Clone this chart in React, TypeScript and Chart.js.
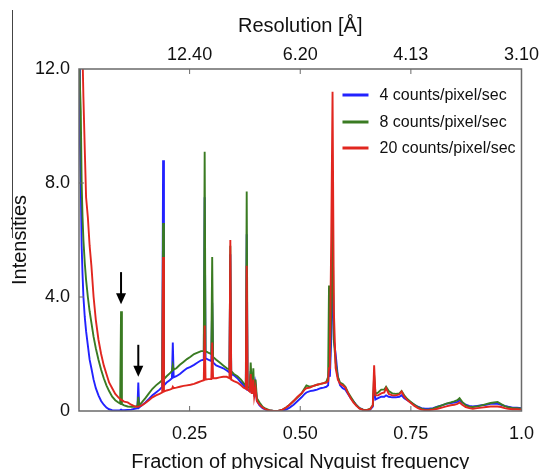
import React, { useEffect, useRef } from 'react';
import { Chart, registerables } from 'chart.js';

Chart.register(...registerables);

// Fraction of physical Nyquist frequency (shared x grid for all series)
const frequency = [
  0.000, 0.002, 0.004, 0.006, 0.008, 0.010, 0.013, 0.016, 0.020, 0.024,
  0.028, 0.033, 0.038, 0.044, 0.050, 0.056, 0.062, 0.068, 0.075, 0.082,
  0.089, 0.093, 0.095, 0.097, 0.102, 0.110, 0.118, 0.126, 0.132, 0.134,
  0.136, 0.142, 0.150, 0.158, 0.166, 0.174, 0.182, 0.188, 0.190, 0.192,
  0.198, 0.205, 0.210, 0.212, 0.214, 0.220, 0.228, 0.236, 0.244, 0.252,
  0.260, 0.268, 0.276, 0.282, 0.284, 0.286, 0.292, 0.299, 0.301, 0.303,
  0.310, 0.318, 0.326, 0.334, 0.340, 0.342, 0.344, 0.350, 0.358, 0.366,
  0.372, 0.377, 0.379, 0.381, 0.386, 0.388, 0.391, 0.394, 0.396, 0.399,
  0.402, 0.408, 0.415, 0.422, 0.430, 0.440, 0.450, 0.460, 0.468, 0.476,
  0.485, 0.494, 0.503, 0.510, 0.514, 0.522, 0.530, 0.538, 0.546, 0.553,
  0.559, 0.563, 0.565, 0.567, 0.570, 0.573, 0.576, 0.580, 0.585, 0.590,
  0.596, 0.602, 0.608, 0.614, 0.620, 0.627, 0.634, 0.642, 0.650, 0.658,
  0.664, 0.667, 0.670, 0.676, 0.683, 0.690, 0.694, 0.700, 0.708, 0.716,
  0.724, 0.729, 0.735, 0.742, 0.750, 0.758, 0.766, 0.774, 0.782, 0.790,
  0.800, 0.810, 0.820, 0.830, 0.840, 0.848, 0.855, 0.860, 0.866, 0.874,
  0.882, 0.890, 0.900, 0.910, 0.920, 0.930, 0.938, 0.946, 0.954, 0.962,
  0.970, 0.980, 0.990, 1.000,
];

// 4 counts/pixel/sec
const intensity4 = [
  12.5, 9.5, 8.0, 5.8, 4.8, 4.0, 3.3, 2.8, 2.3, 1.8,
  1.5, 1.1, 0.8, 0.55, 0.35, 0.22, 0.12, 0.06, 0.03, 0.02,
  0.02, 0.03, 0.05, 0.03, 0.03, 0.04, 0.05, 0.08, 0.1, 1.0,
  0.12, 0.2, 0.3, 0.42, 0.55, 0.65, 0.75, 0.85, 8.8, 0.9,
  1.0, 1.08, 1.15, 2.4, 1.18, 1.22, 1.3, 1.4, 1.5, 1.55,
  1.62, 1.7, 1.78, 1.8, 7.5, 1.85, 1.8, 1.75, 3.8, 1.7,
  1.6, 1.55, 1.5, 1.42, 1.35, 5.5, 1.3, 1.25, 1.15, 1.0,
  0.9, 0.8, 6.2, 0.75, 0.7, 1.4, 0.6, 1.2, 0.5, 0.9,
  0.35, 0.2, 0.1, 0.05, 0.02, 0.0, 0.0, 0.02, 0.05, 0.12,
  0.22, 0.35, 0.48, 0.6, 0.65, 0.7, 0.72, 0.75, 0.8, 0.82,
  0.85, 0.9, 1.5, 1.2, 2.5, 5.3, 2.5, 2.0, 1.2, 0.9,
  0.8, 0.75, 0.6, 0.45, 0.35, 0.2, 0.1, 0.05, 0.03, 0.05,
  0.15, 0.9, 0.4, 0.45, 0.5, 0.5, 0.55, 0.5, 0.48, 0.48,
  0.5, 0.55, 0.45, 0.38, 0.3, 0.22, 0.15, 0.1, 0.08, 0.08,
  0.1, 0.15, 0.2, 0.25, 0.28, 0.3, 0.32, 0.38, 0.3, 0.22,
  0.18, 0.16, 0.18, 0.2, 0.22, 0.25, 0.25, 0.25, 0.22, 0.18,
  0.15, 0.12, 0.12, 0.1,
];

// 8 counts/pixel/sec
const intensity8 = [
  12.5, 12.5, 10.5, 8.0, 6.8, 6.0, 5.2, 4.6, 4.0, 3.5,
  3.1, 2.6, 2.2, 1.8, 1.45, 1.15, 0.9, 0.7, 0.5, 0.38,
  0.3, 0.26, 3.5, 0.24, 0.2, 0.16, 0.15, 0.15, 0.18, 0.5,
  0.2, 0.3, 0.45, 0.62, 0.78, 0.9, 1.0, 1.08, 6.6, 1.12,
  1.22, 1.32, 1.4, 1.6, 1.45, 1.5, 1.62, 1.72, 1.82, 1.9,
  2.0, 2.05, 2.1, 2.1, 9.1, 2.1, 2.05, 2.0, 5.4, 1.9,
  1.8, 1.7, 1.6, 1.5, 1.45, 5.8, 1.4, 1.3, 1.22, 1.1,
  0.98, 0.9, 7.7, 0.85, 0.8, 1.7, 0.7, 1.5, 0.6, 1.1,
  0.45, 0.3, 0.15, 0.08, 0.03, 0.0, 0.0, 0.05, 0.12, 0.22,
  0.35, 0.48, 0.62, 0.8, 0.9, 0.85, 0.88, 0.92, 0.95, 0.98,
  1.02, 1.2, 4.4, 1.6, 3.5, 6.8, 2.5, 1.7, 1.2, 1.0,
  0.95, 0.85, 0.65, 0.5, 0.35, 0.2, 0.1, 0.05, 0.03, 0.08,
  0.2, 1.25, 0.6, 0.65, 0.75, 0.75, 0.85, 0.7, 0.62, 0.6,
  0.62, 0.7, 0.55, 0.42, 0.32, 0.22, 0.14, 0.08, 0.05, 0.05,
  0.08, 0.14, 0.2, 0.26, 0.3, 0.34, 0.38, 0.45, 0.32, 0.2,
  0.15, 0.14, 0.16, 0.2, 0.24, 0.28, 0.3, 0.32, 0.24, 0.17,
  0.13, 0.1, 0.1, 0.08,
];

// 20 counts/pixel/sec
const intensity20 = [
  12.5, 12.5, 12.5, 12.5, 12.5, 11.0, 9.2, 7.5, 6.8, 5.8,
  5.1, 4.0, 3.2, 2.5, 2.0, 1.6, 1.3, 1.0, 0.8, 0.6,
  0.48, 0.42, 0.4, 0.38, 0.33, 0.3, 0.22, 0.16, 0.15, 0.15,
  0.16, 0.2, 0.28, 0.38, 0.48, 0.55, 0.6, 0.65, 5.4, 0.68,
  0.72, 0.75, 0.78, 0.85, 0.8, 0.82, 0.85, 0.88, 0.9, 0.92,
  0.95, 1.0, 1.05, 1.08, 3.0, 1.1, 1.12, 1.12, 2.4, 1.15,
  1.15, 1.18, 1.2, 1.2, 1.15, 6.0, 1.1, 1.05, 1.0, 0.9,
  0.82, 0.78, 5.1, 0.75, 0.68, 1.3, 0.6, 1.1, 0.5, 0.8,
  0.35, 0.22, 0.12, 0.06, 0.02, 0.0, 0.0, 0.05, 0.12, 0.22,
  0.35, 0.5, 0.62, 0.75, 0.8, 0.82, 0.88, 0.92, 0.95, 0.98,
  1.0, 1.05, 1.5, 2.0, 6.0, 11.2, 3.5, 1.5, 1.1, 0.95,
  0.9, 0.82, 0.62, 0.45, 0.3, 0.18, 0.08, 0.04, 0.03, 0.06,
  0.2, 1.6, 0.55, 0.55, 0.62, 0.65, 0.8, 0.6, 0.55, 0.55,
  0.58, 0.68, 0.5, 0.38, 0.28, 0.18, 0.1, 0.05, 0.03, 0.03,
  0.05, 0.08, 0.12, 0.16, 0.2, 0.22, 0.25, 0.3, 0.22, 0.14,
  0.1, 0.08, 0.1, 0.12, 0.14, 0.16, 0.16, 0.16, 0.14, 0.1,
  0.08, 0.06, 0.06, 0.05,
];

const seriesLabels = ['4 counts/pixel/sec', '8 counts/pixel/sec', '20 counts/pixel/sec'];
const seriesColors = ['#2222ff', '#3a7b22', '#e1261f'];

// Arrow annotations (x in frequency, tip in intensity units)
const arrowFrequency = [0.095, 0.134];
const arrowTipIntensity = [3.75, 1.2];

const bottomTickValues = [0.25, 0.5, 0.75, 1.0];
const bottomTickLabels = ['0.25', '0.50', '0.75', '1.0'];
const topTickValues = [0.25, 0.5, 0.75, 1.0];
const topTickLabels = ['12.40', '6.20', '4.13', '3.10'];
const yTickValues = [0, 4, 8, 12];
const yTickLabels = ['0', '4.0', '8.0', '12.0'];

const FONT = '"Liberation Sans", Arial, Helvetica, sans-serif';
const TEXT = '#111111';

const framePlugin = {
  id: 'frameAndLegend',
  afterDatasetsDraw(chart: any) {
    const { ctx, chartArea: a, scales } = chart;
    ctx.save();
    // frame
    ctx.strokeStyle = '#6a6a6a';
    ctx.lineWidth = 1.5;
    ctx.strokeRect(a.left, a.top, a.right - a.left, a.bottom - a.top);
    // inward tick marks
    ctx.lineWidth = 1;
    const tl = 5;
    ctx.beginPath();
    bottomTickValues.forEach((v) => {
      if (v >= 1) return;
      const px = scales.x.getPixelForValue(v);
      ctx.moveTo(px, a.bottom);
      ctx.lineTo(px, a.bottom - tl);
    });
    topTickValues.forEach((v) => {
      if (v >= 1) return;
      const px = scales.xTop.getPixelForValue(v);
      ctx.moveTo(px, a.top);
      ctx.lineTo(px, a.top + tl);
    });
    yTickValues.forEach((v) => {
      if (v <= 0 || v >= 12) return;
      const py = scales.y.getPixelForValue(v);
      ctx.moveTo(a.left, py);
      ctx.lineTo(a.left + tl, py);
    });
    ctx.stroke();

    // arrows
    ctx.fillStyle = '#000';
    ctx.strokeStyle = '#000';
    arrowFrequency.forEach((f, i) => {
      const x = scales.x.getPixelForValue(f);
      const tip = scales.y.getPixelForValue(arrowTipIntensity[i]);
      ctx.lineWidth = 2;
      ctx.beginPath();
      ctx.moveTo(x, tip - 32);
      ctx.lineTo(x, tip - 9);
      ctx.stroke();
      ctx.beginPath();
      ctx.moveTo(x - 5, tip - 11);
      ctx.lineTo(x + 5, tip - 11);
      ctx.lineTo(x, tip);
      ctx.closePath();
      ctx.fill();
    });

    // legend (inside plot, top right)
    const lx = a.right - 179;
    const rowOffsets = [26, 53, 79];
    ctx.font = `16px ${FONT}`;
    ctx.textBaseline = 'middle';
    ctx.textAlign = 'left';
    chart.data.datasets.forEach((ds: any, i: number) => {
      const y = a.top + rowOffsets[i];
      ctx.strokeStyle = ds.borderColor;
      ctx.lineWidth = 3;
      ctx.beginPath();
      ctx.moveTo(lx, y);
      ctx.lineTo(lx + 26, y);
      ctx.stroke();
      ctx.fillStyle = TEXT;
      ctx.fillText(ds.label, lx + 37, y + 1);
    });
    ctx.restore();
  },
  afterDraw(chart: any) {
    const { ctx } = chart;
    ctx.save();
    ctx.strokeStyle = '#444';
    ctx.lineWidth = 1;
    ctx.beginPath();
    ctx.moveTo(12.5, 10);
    ctx.lineTo(12.5, 238);
    ctx.stroke();
    ctx.restore();
  },
};

export default function App() {
  const canvasRef = useRef<HTMLCanvasElement | null>(null);

  useEffect(() => {
    const canvas = canvasRef.current;
    if (!canvas) return;
    const series = [intensity4, intensity8, intensity20];
    const chart = new Chart(canvas, {
      type: 'line',
      data: {
        datasets: series.map((vals, i) => ({
          label: seriesLabels[i],
          data: frequency.map((f, j) => ({ x: f, y: vals[j] })),
          borderColor: seriesColors[i],
          backgroundColor: seriesColors[i],
          borderWidth: 1.9,
          pointRadius: 0,
          tension: 0,
          fill: false,
          order: 3 - i,
          xAxisID: 'x',
          yAxisID: 'y',
        })),
      },
      options: {
        animation: false,
        responsive: false,
        devicePixelRatio: 1,
        layout: { padding: { left: 0, right: 20, top: 0, bottom: 0 } },
        plugins: {
          legend: { display: false },
          tooltip: { enabled: false },
        },
        scales: {
          x: {
            type: 'linear',
            position: 'bottom',
            min: 0,
            max: 1,
            afterBuildTicks: (s: any) => {
              s.ticks = bottomTickValues.map((v) => ({ value: v }));
            },
            afterFit: (s: any) => {
              s.height = 58;
            },
            grid: { display: false, drawTicks: false },
            border: { display: false },
            ticks: {
              autoSkip: false,
              maxRotation: 0,
              padding: 10,
              color: TEXT,
              font: { family: FONT, size: 18, lineHeight: 1.42 },
              callback: (_v: any, i: number) => bottomTickLabels[i],
            },
            title: {
              display: true,
              text: 'Fraction of physical Nyquist frequency',
              color: TEXT,
              font: { family: FONT, size: 20, lineHeight: 1 },
              padding: { top: 0, bottom: -3 },
            },
          },
          xTop: {
            type: 'linear',
            position: 'top',
            min: 0,
            max: 1,
            afterBuildTicks: (s: any) => {
              s.ticks = topTickValues.map((v) => ({ value: v }));
            },
            afterFit: (s: any) => {
              s.height = 69;
            },
            grid: { display: false, drawTicks: false },
            border: { display: false },
            ticks: {
              autoSkip: false,
              maxRotation: 0,
              padding: 3,
              color: TEXT,
              font: { family: FONT, size: 18 },
              callback: (_v: any, i: number) => topTickLabels[i],
            },
            title: {
              display: true,
              text: 'Resolution [Å]',
              color: TEXT,
              font: { family: FONT, size: 20, lineHeight: 1 },
              padding: { top: 16, bottom: 0 },
            },
          },
          y: {
            type: 'linear',
            position: 'left',
            min: 0,
            max: 12,
            afterBuildTicks: (s: any) => {
              s.ticks = yTickValues.map((v) => ({ value: v }));
            },
            afterFit: (s: any) => {
              s.width = 79;
            },
            grid: { display: false, drawTicks: false },
            border: { display: false },
            ticks: {
              padding: 9,
              color: TEXT,
              font: { family: FONT, size: 18 },
              callback: (_v: any, i: number) => yTickLabels[i],
            },
            title: {
              display: true,
              text: 'Intensities',
              color: TEXT,
              font: { family: FONT, size: 20, lineHeight: 1 },
              padding: { top: 10, bottom: 0 },
            },
          },
        },
      } as any,
      plugins: [framePlugin],
    });
    return () => chart.destroy();
  }, []);

  return (
    <div style={{ position: 'absolute', left: 0, top: 0, width: 544, height: 469, background: '#fff' }}>
      <canvas ref={canvasRef} width={544} height={469} style={{ display: 'block' }} />
    </div>
  );
}
